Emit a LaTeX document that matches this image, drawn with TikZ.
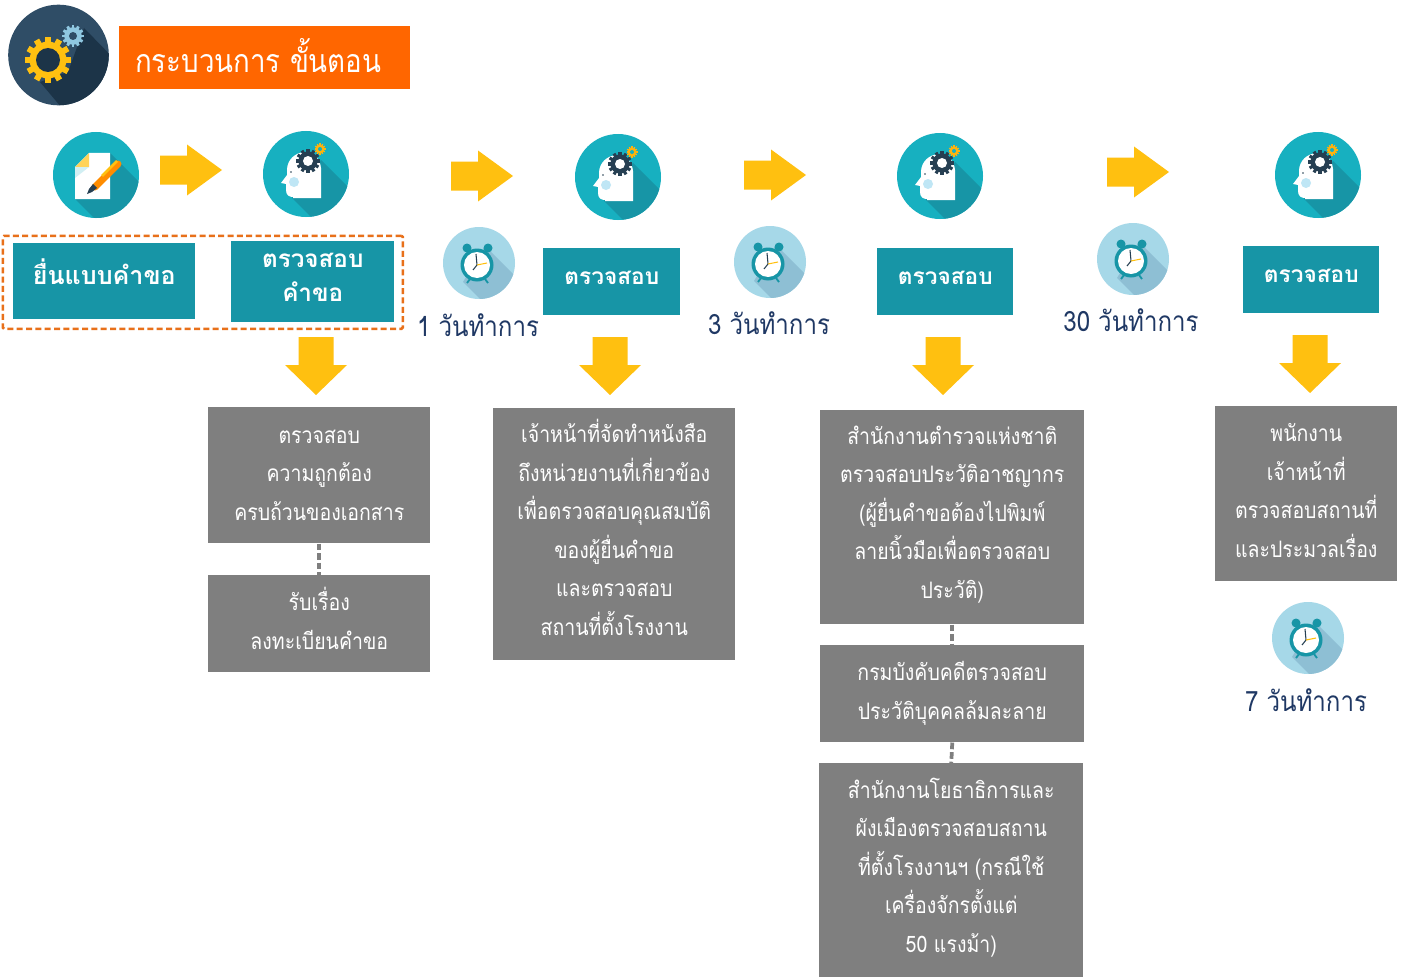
\documentclass[tikz,border=0pt]{standalone}
\usepackage{fontspec}
\setmainfont[Script=Thai,FakeStretch=0.86]{Loma}
\newfontfamily\widethai[Script=Thai]{Loma}
\definecolor{tealbox}{HTML}{1795A6}
\definecolor{tealc}{HTML}{17B0C0}
\definecolor{grayb}{HTML}{7F7F7F}
\definecolor{orangeb}{HTML}{FF6600}
\definecolor{dashor}{HTML}{E8701A}
\definecolor{arrowy}{HTML}{FFC010}
\definecolor{navyt}{HTML}{1F3864}
\definecolor{clockc}{HTML}{A6D8E8}
\definecolor{clocks}{HTML}{8EBFD4}
\definecolor{darkg}{HTML}{263F52}
\definecolor{logoc}{HTML}{2F4D66}
\definecolor{logos}{HTML}{1C3448}
\definecolor{cheek}{HTML}{BFE6F5}
\definecolor{lightgear}{HTML}{8FC7E0}
\tikzset{
  boxgray/.style={fill=grayb,inner sep=0pt,anchor=north west},
  graytext/.style={text=white,inner sep=0pt,align=center,font=\fontsize{17}{28.9}\selectfont},
  boxteal/.style={fill=tealbox,inner sep=0pt,anchor=north west},
  tealtext/.style={text=white,inner sep=0pt,align=center,font=\widethai\bfseries\fontsize{18.2}{25.5}\selectfont},
  tealsmall/.style={text=white,inner sep=0pt,align=center,font=\widethai\bfseries\fontsize{17}{20}\selectfont},
  timelabel/.style={text=navyt,inner sep=0pt,font=\fontsize{21}{24}\selectfont},
  linkdash/.style={draw=grayb,line width=2.8pt,dash pattern=on 5pt off 2.2pt},
}
% gear: x y radius colour
\newcommand{\gearshape}[4]{%
  \begin{scope}[shift={(#1,#2)}]
    \fill[#4] (0,0) circle[radius=0.8*#3];
    \foreach \a in {0,30,...,330}{
      \fill[#4,rotate=\a] (-0.13*#3,0) rectangle (0.13*#3,#3);
    }
  \end{scope}}
\newcommand{\rightblock}[3]{% name x-left y-centre
  \fill[arrowy] (#2,#3-14.5) -- (#2+27,#3-14.5) -- (#2+27,#3-25.5) -- (#2+62,#3) -- (#2+27,#3+25.5) -- (#2+27,#3+14.5) -- (#2,#3+14.5) -- cycle;
  \coordinate (#1) at (#2+31,#3);}
\newcommand{\downblock}[3]{% name x-centre y-top
  \fill[arrowy] (#2-17.5,#3) -- (#2+17.5,#3) -- (#2+17.5,#3+28) -- (#2+31,#3+28) -- (#2,#3+58) -- (#2-31,#3+28) -- (#2-17.5,#3+28) -- cycle;
  \coordinate (#1) at (#2,#3+29);}
\newcommand{\headicon}[3]{% name x y
  \node[circle,fill=tealc,minimum size=64.5pt,inner sep=0pt] (#1) at (#2,#3) {};
  \begin{scope}[shift={(#2,#3)}]
    \begin{scope}
      \clip (0,0) circle[radius=43];
      \fill[tealbox] (15,-14) -- (65,36) -- (65,70) -- (32,70) -- (-14,24) -- cycle;
    \end{scope}
    \fill[white] (15,24) -- (15,-6) .. controls (14,-16) and (8,-21) .. (0,-22)
      .. controls (-11,-22) and (-19,-14) .. (-19,-4) -- (-19,1) -- (-25,9) -- (-20,10) -- (-20,16)
      .. controls (-20,21) and (-17,23) .. (-13,23) -- (-13,24) -- cycle;
    \fill[cheek] (-12,8) circle[radius=5];
    \fill[darkg] (-15,-2) circle[radius=.8];
  \end{scope}
  \gearshape{#2+2}{#3-13}{12}{darkg}
  \fill[white] (#2+2,#3-13) circle[radius=5];
  \gearshape{#2+14}{#3-25}{5.5}{arrowy!80!orange}
  \fill[tealc] (#2+14,#3-25) circle[radius=2];}
\newcommand{\docicon}[3]{%
  \node[circle,fill=tealc,minimum size=64.5pt,inner sep=0pt] (#1) at (#2,#3) {};
  \begin{scope}[shift={(#2,#3)}]
    \begin{scope}
      \clip (0,0) circle[radius=43];
      \fill[tealbox] (14,-22) -- (65,29) -- (65,70) -- (25,70) -- (-21,24) -- cycle;
    \end{scope}
    \fill[white] (-7,-22) -- (14,-22) -- (14,24) -- (-21,24) -- (-21,-8) -- cycle;
    \fill[arrowy!70!white] (-7,-22) -- (-7,-8) -- (-21,-8) -- cycle;
    \fill[white!80!tealc] (-7,-8) -- (-21,-8) -- (-21,3) -- cycle;
    \draw[orange!90!yellow,line width=5.2pt,line cap=round] (-1,12) -- (22,-11);
    \draw[arrowy,line width=2pt] (6,1) -- (21,-14);
    \fill[darkg] (-3,9) -- (1,13) -- (-4,17) -- (-9,19) -- (-7,14) -- cycle;
  \end{scope}}
\newcommand{\clockicon}[3]{%
  \node[circle,fill=clockc,minimum size=54pt,inner sep=0pt] (#1) at (#2,#3) {};
  \begin{scope}[shift={(#2,#3)}]
    \begin{scope}
      \clip (0,0) circle[radius=36];
      \fill[clocks] (6,-17) -- (50,27) -- (50,50) -- (15,50) -- (-16,19) -- cycle;
    \end{scope}
    \fill[tealbox] (-12,-15) circle[radius=4.5];
    \fill[tealbox] (9,-15) circle[radius=4.5];
    \draw[tealbox,line width=1.4pt] (-9,16) -- (-12,20) (6,16) -- (9,20);
    \fill[tealbox] (-2,2) circle[radius=16.5];
    \fill[white] (-2,2) circle[radius=13];
    \draw[darkg,line width=.8pt] (-2,2) -- (-3,-9);
    \draw[darkg,line width=.8pt] (-2,2) -- (-6,7);
    \draw[arrowy,line width=.8pt] (-2,2) -- (8,0);
  \end{scope}}
\begin{document}
\begin{tikzpicture}[x=0.75pt,y=-0.75pt]
\useasboundingbox (0,0) rectangle (1408,977);
\fill[white] (0,0) rectangle (1408,977);
% title icon
\node[circle,fill=logoc,minimum size=75.5pt,inner sep=0pt] (logo) at (58.5,55) {};
\begin{scope}
  \clip (58.5,55) circle[radius=50.3];
  \fill[logos] (84,28) -- (125,70) -- (125,120) -- (72,120) -- (40,82) -- (68,72) -- cycle;
\end{scope}
\gearshape{48}{60}{23}{arrowy}
\fill[logos] (48,60) circle[radius=12];
\gearshape{73}{36}{11}{lightgear}
\fill[logoc] (73,36) circle[radius=4];
\node[fill=orangeb,minimum width=218.25pt,minimum height=47.25pt,inner sep=0pt,anchor=north west] (title) at (119,26) {};
\node[text=white,anchor=west,inner sep=0pt,font=\fontsize{24.1}{28}\selectfont] (titletext) at (135,56) {กระบวนการ ขั้นตอน};
% icons
\docicon{i1}{96}{175}
\headicon{i2}{306}{174}
\headicon{i3}{618}{177}
\headicon{i4}{940}{176}
\headicon{i5}{1318}{175}
% right arrows
\rightblock{ra1}{160}{170}
\rightblock{ra2}{451}{176}
\rightblock{ra3}{744}{175}
\rightblock{ra4}{1107}{172}
% teal boxes
\node[boxteal,minimum width=136.5pt,minimum height=57pt] (t1) at (13,243) {};
\node[tealtext,yshift=7pt,font=\widethai\bfseries\fontsize{18.8}{25.5}\selectfont] (t1t) at (t1) {ยื่นแบบคำขอ};
\node[boxteal,minimum width=122.25pt,minimum height=60.75pt] (t2) at (231,241) {};
\node[tealtext,yshift=3.5pt] (t2t) at (t2) {ตรวจสอบ\\คำขอ};
\node[boxteal,minimum width=102.75pt,minimum height=50.25pt] (t3) at (543,248) {};
\node[tealsmall,yshift=3pt] (t3t) at (t3) {ตรวจสอบ};
\node[boxteal,minimum width=102pt,minimum height=50.25pt] (t4) at (877,248) {};
\node[tealsmall,yshift=3pt] (t4t) at (t4) {ตรวจสอบ};
\node[boxteal,minimum width=102pt,minimum height=50.25pt] (t5) at (1243,246) {};
\node[tealsmall,yshift=3pt] (t5t) at (t5) {ตรวจสอบ};
\node[draw=dashor,line width=2pt,dash pattern=on 4.5pt off 2.5pt,rounded corners=1pt,fill=none,minimum width=300pt,minimum height=69.75pt,inner sep=0pt,anchor=north west] (grp) at (1.5,234.5) {};
% clocks
\clockicon{c1}{479}{263}
\clockicon{c2}{770}{262}
\clockicon{c3}{1133}{259}
\clockicon{c4}{1308}{638}
\node[timelabel] (l1) at (478,325) {1 วันทำการ};
\node[timelabel] (l2) at (769,323) {3 วันทำการ};
\node[timelabel] (l3) at (1131,320) {30 วันทำการ};
\node[timelabel] (l4) at (1306,700) {7 วันทำการ};
% down arrows
\downblock{da1}{316}{337}
\downblock{da2}{610}{337}
\downblock{da3}{943}{337}
\downblock{da4}{1310}{335}
% gray boxes
\node[boxgray,minimum width=166.5pt,minimum height=102pt] (g1) at (208,407) {};
\node[graytext,yshift=0pt] (g1t) at (g1) {ตรวจสอบ\\ความถูกต้อง\\ครบถ้วนของเอกสาร};
\node[boxgray,minimum width=166.5pt,minimum height=72.75pt] (g2) at (208,575) {};
\node[graytext,yshift=4pt] (g2t) at (g2) {รับเรื่อง\\ลงทะเบียนคำขอ};
\node[boxgray,minimum width=181.5pt,minimum height=189pt] (g3) at (493,408) {};
\node[graytext,yshift=5.25pt] (g3t) at (g3) {เจ้าหน้าที่จัดทำหนังสือ\\ถึงหน่วยงานที่เกี่ยวข้อง\\เพื่อตรวจสอบคุณสมบัติ\\ของผู้ยื่นคำขอ\\และตรวจสอบ\\สถานที่ตั้งโรงงาน};
\node[boxgray,minimum width=198pt,minimum height=160.5pt] (g4) at (820,410) {};
\node[graytext,yshift=2pt] (g4t) at (g4) {สำนักงานตำรวจแห่งชาติ\\ตรวจสอบประวัติอาชญากร\\(ผู้ยื่นคำขอต้องไปพิมพ์\\ลายนิ้วมือเพื่อตรวจสอบ\\ประวัติ)};
\node[boxgray,minimum width=198pt,minimum height=72.75pt] (g5) at (820,645) {};
\node[graytext,yshift=.5pt] (g5t) at (g5) {กรมบังคับคดีตรวจสอบ\\ประวัติบุคคลล้มละลาย};
\node[boxgray,minimum width=198pt,minimum height=160.5pt] (g6) at (819,763) {};
\node[graytext,yshift=2.2pt] (g6t) at (g6) {สำนักงานโยธาธิการและ\\ผังเมืองตรวจสอบสถาน\\ที่ตั้งโรงงานฯ (กรณีใช้\\เครื่องจักรตั้งแต่\\50 แรงม้า)};
\node[boxgray,minimum width=136.5pt,minimum height=131.25pt] (g7) at (1215,406) {};
\node[graytext,yshift=2.5pt] (g7t) at (g7) {พนักงาน\\เจ้าหน้าที่\\ตรวจสอบสถานที่\\และประมวลเรื่อง};
% links
\draw[linkdash] (g1.south) -- (g2.north);
\draw[linkdash] (g4.south) -- (g5.north);
\draw[linkdash] (g5.south) -- (g6.north);
\end{tikzpicture}
\end{document}
